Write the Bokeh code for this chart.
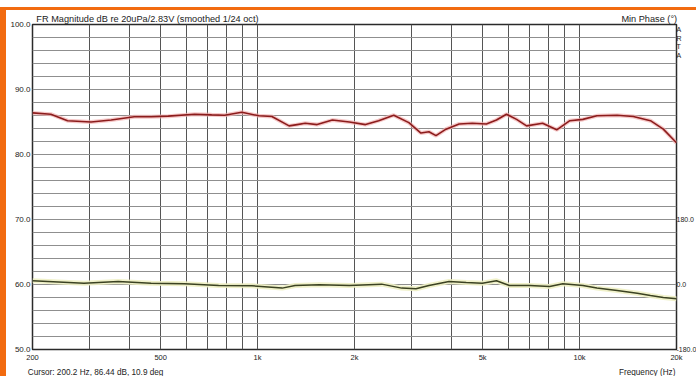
from bokeh.plotting import figure
from bokeh.models import Range1d, FixedTicker, NumeralTickFormatter, LinearAxis, LogAxis
from bokeh.embed import file_html
from bokeh.resources import INLINE

# ---- data ----
mag_freq = [200, 228, 257, 304, 351, 414, 467, 528, 637, 720, 790, 893, 1010, 1108,
            1253, 1327, 1406, 1531, 1707, 1928, 2164, 2377, 2648, 2950, 3216, 3406,
            3582, 3848, 4227, 4642, 5135, 5520, 5930, 6373, 6846, 7678, 8492, 9330,
            10240, 11320, 13080, 14680, 16600, 18200, 20000]
mag_db = [86.4, 86.2, 85.2, 85.0, 85.3, 85.8, 85.8, 85.9, 86.2, 86.1, 86.05, 86.5, 85.95, 85.85,
          84.4, 84.6, 84.8, 84.6, 85.3, 85.0, 84.6, 85.2, 86.05, 84.9, 83.3, 83.5,
          82.9, 83.9, 84.7, 84.8, 84.7, 85.3, 86.2, 85.4, 84.4, 84.8, 83.8, 85.2,
          85.4, 85.95, 86.05, 85.85, 85.2, 83.9, 81.8]

phase_freq = [200, 289, 369, 467, 593, 757, 960, 1192, 1308, 1556, 1928, 2428, 2804, 3104,
              3406, 3932, 4446, 4988, 5520, 6056, 6996, 8076, 8872, 10240, 11320, 13080,
              15100, 16600, 18200, 20000]
phase_deg = [10.2, 3.6, 8.3, 3.6, 1.9, -2.8, -3.6, -10.0, -2.8, -0.8, -2.8, 1.0, -10.0, -12.0,
             -2.8, 8.3, 5.5, 3.7, 10.2, -2.8, -2.8, -5.5, 1.9, -2.8, -10.0, -16.6,
             -24.0, -30.5, -36.0, -39.6]

x_tick_values = [200, 500, 1000, 2000, 5000, 10000, 20000]
x_tick_labels = ["200", "500", "1k", "2k", "5k", "10k", "20k"]
x_grid_values = [200, 300, 400, 500, 600, 700, 800, 900, 1000,
                 2000, 3000, 4000, 5000, 6000, 7000, 8000, 9000, 10000, 20000]
y_tick_values = [50, 60, 70, 80, 90, 100]
y_grid_values = list(range(50, 101, 2))
phase_tick_values = [180, 0, -180]
phase_tick_labels = ["180.0", "0.0", "-180.0"]

title_text = "FR Magnitude dB re 20uPa/2.83V (smoothed 1/24 oct)"
right_title = "Min Phase (\u00b0)"
cursor_text = "Cursor: 200.2 Hz, 86.44 dB, 10.9 deg"
xlabel_text = "Frequency (Hz)"
brand_letters = ["A", "R", "T", "A"]

# text anchor positions (centre of each header/footer text)
title_anchor = 455
right_title_anchor = 16460
cursor_anchor = 314
xlabel_anchor = 16220
brand_anchor_deg = [706, 681, 659, 634]

FONT = "Liberation Sans"
TXT = "#222222"
ORANGE = "#f26b10"

p = figure(width=690, height=366, x_axis_type="log",
           x_range=Range1d(200, 20000), y_range=Range1d(50, 100),
           output_backend="svg", toolbar_location=None,
           min_border_left=26, min_border_right=26, min_border_top=12, min_border_bottom=28,
           background_fill_color="white", border_fill_color="white",
           styles={"box-sizing": "content-box", "margin-top": "7px",
                   "border-left": "6px solid " + ORANGE, "border-top": "3px solid " + ORANGE})
p.extra_y_ranges = {"phase": Range1d(-180, 720)}

p.outline_line_color = "#2a2a2a"
p.outline_line_width = 1.5

# grids
p.xgrid.ticker = FixedTicker(ticks=x_grid_values)
p.ygrid.ticker = FixedTicker(ticks=y_grid_values)
p.xgrid.grid_line_color = "#555555"
p.ygrid.grid_line_color = "#8f8f8f"


def style_axis(ax, size, standoff):
    ax.axis_line_color = None
    ax.major_tick_line_color = None
    ax.minor_tick_line_color = None
    ax.major_tick_out = 0
    ax.major_tick_in = 0
    ax.major_label_text_font = FONT
    ax.major_label_text_color = TXT
    ax.major_label_text_font_size = size
    ax.major_label_standoff = standoff


# main axes
p.xaxis.ticker = FixedTicker(ticks=x_tick_values)
p.xaxis.major_label_overrides = {v: t for v, t in zip(x_tick_values, x_tick_labels)}
p.yaxis.ticker = FixedTicker(ticks=y_tick_values)
p.yaxis.formatter = NumeralTickFormatter(format="0.0")
style_axis(p.xaxis[0], "7.5px", 3)
style_axis(p.yaxis[0], "8px", 2)

# phase axis on the right (+ ARTA letters)
right_ticks = phase_tick_values + brand_anchor_deg
right_labels = phase_tick_labels + brand_letters
phase_axis = LinearAxis(y_range_name="phase", ticker=FixedTicker(ticks=right_ticks),
                        major_label_overrides={v: t for v, t in zip(right_ticks, right_labels)})
style_axis(phase_axis, "7px", 0)
p.add_layout(phase_axis, "right")

# header texts
top_axis = LogAxis(ticker=FixedTicker(ticks=[title_anchor, right_title_anchor]),
                   major_label_overrides={title_anchor: title_text, right_title_anchor: right_title})
style_axis(top_axis, "9.2px", 1)
p.add_layout(top_axis, "above")

# footer texts
foot_axis = LogAxis(ticker=FixedTicker(ticks=[cursor_anchor, xlabel_anchor]),
                    major_label_overrides={cursor_anchor: cursor_text, xlabel_anchor: xlabel_text})
style_axis(foot_axis, "8.2px", 3)
p.add_layout(foot_axis, "below")

# curves
p.line(mag_freq, mag_db, line_color="#f2b0b0", line_width=4, line_alpha=0.7)
p.line(mag_freq, mag_db, line_color="#8c1c1c", line_width=1.6)
p.line(phase_freq, phase_deg, y_range_name="phase", line_color="#eef0c4", line_width=5, line_alpha=0.9)
p.line(phase_freq, phase_deg, y_range_name="phase", line_color="#3b4222", line_width=1.5)

open("out.html", "w").write(file_html(p, INLINE))
